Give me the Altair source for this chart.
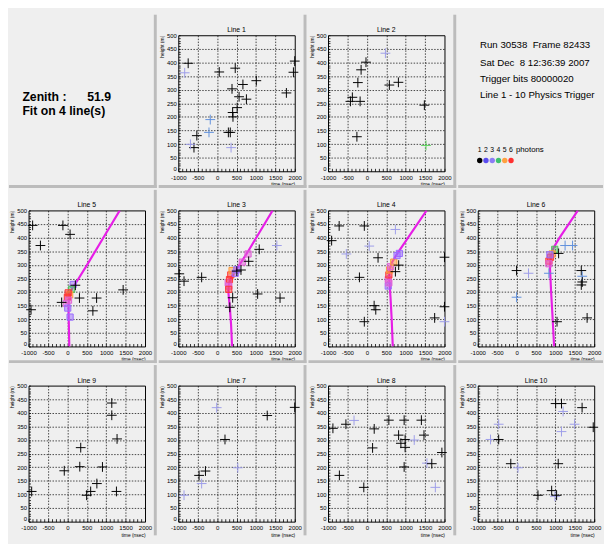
import altair as alt
import pandas as pd

# ---------------- data ----------------
X_DOMAIN = [-1000, 2000]
Y_DOMAIN = [0, 500]
X_LABELS = [-1000, -500, 0, 500, 1000, 1500, 2000]
Y_LABELS = [0, 50, 100, 150, 200, 250, 300, 350, 400, 450, 500]
X_MINOR_STEP = 100
Y_MINOR_STEP = 10

# Line 1
L1_T = [-745, -835, 55, 467, 384, 665, 1010, 566, 755, 516, 400, 409, 290, 340, 1785, 2000, 1966, -176, -209, -522, -596, -687, 360]
L1_Z = [397, 362, 365, 379, 303, 319, 333, 274, 265, 234, 216, 200, 143, 143, 288, 405, 364, 190, 143, 131, 87, 99, 87]
L1_K = ['k', 'l', 'k', 'k', 'k', 'k', 'k', 'k', 'k', 'k', 'k', 'k', 'k', 'k', 'k', 'k', 'k', 'b', 'b', 'k', 'k', 'l', 'l']
# Line 2
L2_T = [479, -22, -148, -231, 580, 813, -373, -423, -173, 1482, -256, 1524]
L2_Z = [434, 401, 373, 326, 317, 327, 272, 257, 257, 243, 127, 95]
L2_K = ['l', 'k', 'k', 'k', 'k', 'k', 'k', 'k', 'k', 'k', 'k', 'g']
# Line 5
L5_T = [-895, -115, 70, -694, 206, 311, 753, 657, -147, 1437, -936]
L5_Z = [445, 445, 412, 371, 225, 178, 178, 131, 162, 208, 135]
L5_K = ['k', 'k', 'k', 'k', 'k', 'k', 'k', 'k', 'k', 'k', 'k']
S5_T = [150, 110, 60, 20, 0, 30, -25, 10, 70]
S5_Z = [228, 210, 190, 197, 181, 170, 158, 141, 108]
S5_K = ['purple', 'green', 'orange', 'red', 'red', 'pink', 'pink', 'purple', 'purple']
F5_T = [50, 35, 30, 60, 130, 230, 500, 1000, 1350]
F5_Z = [0, 100, 150, 190, 215, 236, 298, 417, 500]
# Line 3
L3_T = [-975, -852, -398, 1085, 1539, 1044, 1621, 401, 327, 615, 813, 508]
L3_Z = [267, 240, 254, 357, 371, 193, 178, 179, 144, 281, 313, 277]
L3_K = ['k', 'k', 'k', 'k', 'l', 'k', 'k', 'k', 'k', 'k', 'k', 'k']
S3_T = [286, 319, 352, 385, 467, 508, 648, 797, 302, 300]
S3_Z = [234, 246, 263, 279, 269, 282, 310, 340, 222, 210]
S3_K = ['pink', 'red', 'red', 'orange', 'purple', 'purple', 'pink', 'pink', 'pink', 'red']
F3_T = [385, 360, 330, 290, 300, 350, 450, 800, 1430]
F3_Z = [0, 80, 140, 200, 228, 250, 272, 350, 500]
# Line 4
L4_T = [-713, -65, -907, 736, 62, -528, 289, -191, 188, 230, -65, 1747, 2000, 2000, 2000, 820, 736]
L4_Z = [443, 443, 389, 430, 369, 340, 326, 254, 150, 135, 91, 105, 146, 328, 91, 299, 275]
L4_K = ['k', 'k', 'k', 'l', 'l', 'l', 'k', 'k', 'k', 'k', 'k', 'k', 'k', 'k', 'l', 'k', 'k']
S4_T = [551, 567, 584, 610, 694, 778, 837, 551, 567]
S4_Z = [246, 263, 281, 293, 310, 334, 342, 222, 234]
S4_K = ['pink', 'red', 'orange', 'pink', 'orange', 'purple', 'purple', 'purple', 'pink']
F4_T = [668, 640, 610, 575, 585, 650, 800, 1540]
F4_Z = [0, 100, 180, 250, 285, 310, 345, 500]
# Line 6
L6_T = [0, 308, 0, 833, 1250, 1442, 1083, 1667, 1692, 1692, 1667, 1817, 1042]
L6_Z = [279, 269, 181, 269, 371, 371, 342, 279, 258, 237, 226, 105, 91]
L6_K = ['k', 'l', 'b', 'b', 'b', 'b', 'k', 'k', 'b', 'k', 'k', 'k', 'k']
S6_T = [983, 917, 875, 833, 833, 858]
S6_Z = [357, 340, 328, 314, 304, 337]
S6_K = ['green', 'orange', 'red', 'red', 'pink', 'purple']
F6_T = [967, 930, 890, 860, 880, 950, 1100, 1580]
F6_Z = [0, 100, 200, 290, 330, 362, 398, 500]
# Line 9
L9_T = [1144, 1144, 1280, 344, 320, -80, 904, 760, 600, 496, 1264, -920]
L9_Z = [436, 391, 304, 272, 202, 187, 201, 140, 111, 97, 111, 111]
L9_K = ['k'] * 12
# Line 7
L7_T = [-11, 1291, 2000, 203, 533, -300, -464, -398, -852]
L7_Z = [419, 390, 420, 302, 198, 186, 170, 140, 97]
L7_K = ['l', 'k', 'k', 'k', 'l', 'k', 'k', 'l', 'l']
# Line 8
L8_T = [-874, -539, -330, 190, 567, 961, 1405, 1472, 818, 877, 986, 986, 1221, 148, 961, 1548, 1673, 1933, -707, -78, 1765]
L8_Z = [343, 358, 372, 341, 373, 373, 373, 318, 318, 288, 302, 273, 300, 271, 201, 215, 213, 254, 170, 126, 126]
L8_K = ['k', 'k', 'l', 'k', 'k', 'k', 'k', 'k', 'k', 'k', 'k', 'k', 'l', 'k', 'k', 'l', 'k', 'k', 'k', 'k', 'l']
# Line 10
L10_T = [1006, 1157, 1688, 1199, 1494, 1157, 1975, -461, -671, -461, -149, 37, 1073, 551, 904, 989, 1031]
L10_Z = [434, 434, 419, 405, 358, 331, 347, 358, 302, 302, 213, 198, 213, 97, 114, 93, 97]
L10_K = ['k', 'k', 'k', 'l', 'l', 'l', 'k', 'l', 'l', 'k', 'k', 'l', 'k', 'k', 'k', 'l', 'k']

PHOTONS = [1, 2, 3, 4, 5, 6]

ZENITH = "51.9"
INFO_LINES = ["Run 30538\u00a0\u00a0Frame 82433",
              "Sat Dec\u00a0\u00a08 12:36:39 2007",
              "Trigger bits 80000020",
              "Line 1 - 10 Physics Trigger"]

# ---------------- styles ----------------
FONT = "Liberation Sans"
BG = "#efefef"
SEP_COLOR = "#bcbcbc"
FIT_COLOR = "#e61ee6"
HIT_KINDS = ['k', 'l', 'b', 'g']
HIT_COLORS = ['#000000', '#9d9de8', '#5f8fdc', '#5cd65c']
SQ_KINDS = ['pink', 'red', 'orange', 'green', 'purple']
SQ_COLORS = ['#e25fd6', '#ff3535', '#ff9b3a', '#4fbf5a', '#9a6cff']
PHOTON_COLORS = ['#000000', '#5b4df0', '#8c7cf5', '#40c070', '#ffa040', '#ff3030']
CROSS = "M-1,0H1M0,-1V1"

W, H = 119, 139          # plot area
L, T, R, B = 20, 21, 9, 14
SEP = 3

one = pd.DataFrame({'d': [0]})


def frame_layers(last_col, last_row):
    base = alt.Chart(one)
    right = W + R + (0 if last_col else SEP)
    bottom = H + B + (0 if last_row else SEP)
    out = [base.mark_rect(opacity=0).encode(
        x=alt.value(-L), x2=alt.value(right), y=alt.value(-T), y2=alt.value(bottom))]
    if not last_col:
        out.append(base.mark_rect(color=SEP_COLOR).encode(
            x=alt.value(W + R), x2=alt.value(W + R + SEP), y=alt.value(-T), y2=alt.value(bottom)))
    if not last_row:
        out.append(base.mark_rect(color=SEP_COLOR).encode(
            x=alt.value(-L), x2=alt.value(right), y=alt.value(H + B), y2=alt.value(H + B + SEP)))
    return out


def x_axis():
    xt = list(range(X_LABELS[0], X_LABELS[-1] + 1, X_MINOR_STEP))
    step = X_LABELS[1] - X_LABELS[0]
    return alt.Axis(
        values=xt,
        labelExpr=f"datum.value % {step} == 0 ? toString(datum.value) : ''",
        tickSize=3, offset=-3, domain=False, tickColor='black', tickWidth=0.8,
        grid=True, gridColor='black', gridDash=[1.5, 1.5], gridWidth=0.8,
        gridOpacity={'condition': {'test': f"datum.value % {step} == 0 && datum.value > {X_DOMAIN[0]} && datum.value < {X_DOMAIN[1]}", 'value': 0.9}, 'value': 0},
        labelFont=FONT, labelFontSize=6.2, labelColor='black', labelPadding=3.5,
        labelFlush=False, labelOverlap=False,
        title='time (nsec)', titleFont=FONT, titleFontSize=5, titleFontWeight='normal',
        titleColor='black', titleAnchor='end', titlePadding=1)


def y_axis():
    yt = list(range(Y_LABELS[0], Y_LABELS[-1] + 1, Y_MINOR_STEP))
    step = Y_LABELS[1] - Y_LABELS[0]
    return alt.Axis(
        values=yt,
        labelExpr=f"datum.value % {step} == 0 ? toString(datum.value) : ''",
        tickSize=2, offset=-2, domain=False, tickColor='black', tickWidth=0.8,
        grid=True, gridColor='black', gridDash=[1.5, 1.5], gridWidth=0.8,
        gridOpacity={'condition': {'test': f"datum.value % {step} == 0 && datum.value > {Y_DOMAIN[0]} && datum.value < {Y_DOMAIN[1]}", 'value': 0.9}, 'value': 0},
        labelBaseline={'condition': {'test': f"datum.value == {Y_DOMAIN[0]}", 'value': 'bottom'}, 'value': 'middle'},
        labelFont=FONT, labelFontSize=6, labelColor='black', labelPadding=2,
        labelFlush=False, labelOverlap=False,
        title='height (m)', titleFont=FONT, titleFontSize=5, titleFontWeight='normal',
        titleColor='black', titleX=-16, titleY=0, titleAlign='right', titleBaseline='bottom',
        titleAngle=270)


def plot_panel(name, t, z, k, sq=None, fit=None, last_col=False, last_row=False):
    layers = frame_layers(last_col, last_row)
    xs = alt.Scale(domain=X_DOMAIN, nice=False, zero=False)
    ys = alt.Scale(domain=Y_DOMAIN, nice=False, zero=False)
    hits = pd.DataFrame({'t': t, 'z': z, 'k': k})
    if fit is not None:
        fd = pd.DataFrame({'t': fit[0], 'z': fit[1], 'i': list(range(len(fit[0])))})
        layers.append(alt.Chart(fd).mark_line(color=FIT_COLOR, strokeWidth=2.2, clip=True).encode(
            x=alt.X('t:Q', scale=xs, axis=x_axis()),
            y=alt.Y('z:Q', scale=ys, axis=y_axis()),
            order=alt.Order('i:Q')))
    if sq is not None:
        sd = pd.DataFrame({'t': sq[0], 'z': sq[1], 'k': sq[2]})
        sqs = alt.Scale(domain=SQ_KINDS, range=SQ_COLORS)
        layers.append(alt.Chart(sd).mark_point(shape='square', size=40, filled=True,
                                               fillOpacity=0.5, strokeWidth=1, opacity=1).encode(
            x=alt.X('t:Q', scale=xs, axis=x_axis()),
            y=alt.Y('z:Q', scale=ys, axis=y_axis()),
            fill=alt.Fill('k:N', scale=sqs, legend=None),
            stroke=alt.Stroke('k:N', scale=sqs, legend=None)))
    layers.append(alt.Chart(hits).mark_point(shape=CROSS, size=100, filled=False,
                                             strokeWidth=1, opacity=1).encode(
        x=alt.X('t:Q', scale=xs, axis=x_axis()),
        y=alt.Y('z:Q', scale=ys, axis=y_axis()),
        color=alt.Color('k:N', scale=alt.Scale(domain=HIT_KINDS, range=HIT_COLORS), legend=None)))
    layers.append(alt.Chart(one).mark_text(font=FONT, fontSize=7, color='black',
                                           align='center', baseline='bottom').encode(
        x=alt.value(W / 2), y=alt.value(-2), text=alt.value(name)))
    return alt.layer(*layers).properties(width=W, height=H)


def txt(s, x, y, size, bold=False, limit=None):
    kw = dict(font=FONT, fontSize=size, color='black', align='left', baseline='alphabetic',
              fontWeight='bold' if bold else 'normal')
    if limit is not None:
        kw['limit'] = limit
        kw['ellipsis'] = ''
    return alt.Chart(one).mark_text(**kw).encode(x=alt.value(x), y=alt.value(y), text=alt.value(s))


def zenith_panel():
    layers = frame_layers(False, False)
    layers += [txt("Zenith :", -6.3, 67.5, 12.5, bold=True),
               txt(ZENITH, 60, 67.5, 12.5, bold=True),
               txt("Fit on 4 line(s)", -6.3, 81.5, 12.5, bold=True)]
    return alt.layer(*layers).properties(width=W, height=H,
                                         view=alt.ViewBackground(stroke='transparent'))


def info_panel():
    layers = frame_layers(True, False)
    ys = [13.5, 31, 47.5, 64]
    for s, y in zip(INFO_LINES, ys):
        layers.append(txt(s, 2.3, y, 9.9, limit=126))
    ph = pd.DataFrame({'n': PHOTONS})
    pscale = alt.Scale(domain=[PHOTONS[0], PHOTONS[-1]], range=[2, 34])
    layers.append(alt.Chart(ph).mark_text(font=FONT, fontSize=7, color='black',
                                          align='center', baseline='alphabetic').encode(
        x=alt.X('n:Q', scale=pscale, axis=None), y=alt.value(119), text=alt.Text('n:Q')))
    layers.append(alt.Chart(ph).mark_point(shape='circle', size=30, filled=True, opacity=1).encode(
        x=alt.X('n:Q', scale=pscale, axis=None), y=alt.value(128),
        color=alt.Color('n:O', scale=alt.Scale(domain=PHOTONS, range=PHOTON_COLORS), legend=None)))
    layers.append(txt("photons", 39, 119, 8))
    return alt.layer(*layers).properties(width=W, height=H,
                                         view=alt.ViewBackground(stroke='transparent'))


IND = dict(color='independent', fill='independent', stroke='independent')

row0 = alt.hconcat(
    zenith_panel(),
    plot_panel("Line 1", L1_T, L1_Z, L1_K),
    plot_panel("Line 2", L2_T, L2_Z, L2_K),
    info_panel(),
    spacing=0).resolve_scale(**IND)
row1 = alt.hconcat(
    plot_panel("Line 5", L5_T, L5_Z, L5_K, (S5_T, S5_Z, S5_K), (F5_T, F5_Z)),
    plot_panel("Line 3", L3_T, L3_Z, L3_K, (S3_T, S3_Z, S3_K), (F3_T, F3_Z)),
    plot_panel("Line 4", L4_T, L4_Z, L4_K, (S4_T, S4_Z, S4_K), (F4_T, F4_Z)),
    plot_panel("Line 6", L6_T, L6_Z, L6_K, (S6_T, S6_Z, S6_K), (F6_T, F6_Z), last_col=True),
    spacing=0).resolve_scale(**IND)
row2 = alt.hconcat(
    plot_panel("Line 9", L9_T, L9_Z, L9_K, last_row=True),
    plot_panel("Line 7", L7_T, L7_Z, L7_K, last_row=True),
    plot_panel("Line 8", L8_T, L8_Z, L8_K, last_row=True),
    plot_panel("Line 10", L10_T, L10_Z, L10_K, last_col=True, last_row=True),
    spacing=0).resolve_scale(**IND)

chart = alt.vconcat(row0, row1, row2, spacing=0).resolve_scale(**IND).properties(
    background=BG, padding=0
).configure_view(stroke='black', strokeWidth=1).configure_concat(spacing=0)

chart.save("out.html", embed_options={"renderer": "svg", "actions": False})
